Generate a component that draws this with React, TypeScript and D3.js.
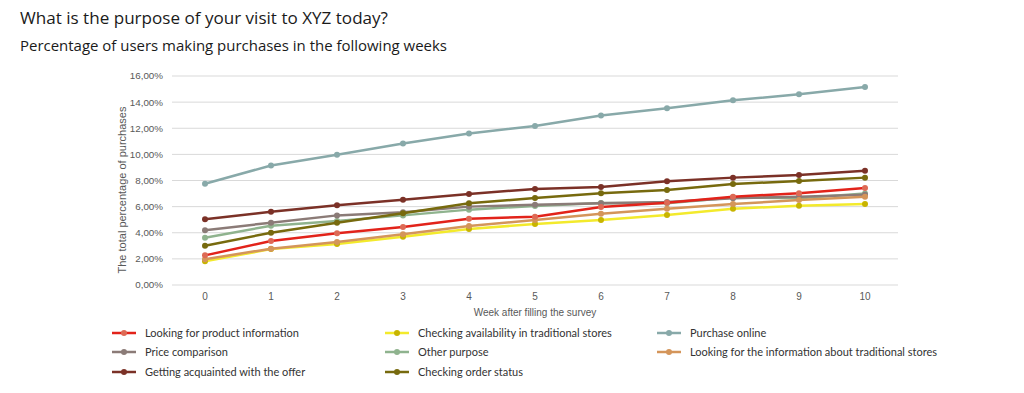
import React from "react";
import * as d3 from "d3";

const weeks = [0, 1, 2, 3, 4, 5, 6, 7, 8, 9, 10];
const yTicks = [0, 2, 4, 6, 8, 10, 12, 14, 16];

const seriesNames = [
  "Looking for product information",
  "Checking availability in traditional stores",
  "Purchase online",
  "Price comparison",
  "Other purpose",
  "Looking for the information about traditional stores",
  "Getting acquainted with the offer",
  "Checking order status",
];

const productInfo = [2.27, 3.37, 3.96, 4.44, 5.08, 5.23, 5.97, 6.3, 6.76, 7.02, 7.43];
const availability = [1.81, 2.75, 3.14, 3.7, 4.29, 4.67, 4.98, 5.36, 5.84, 6.07, 6.2];
const purchaseOnline = [7.75, 9.15, 9.97, 10.83, 11.6, 12.17, 12.97, 13.53, 14.14, 14.6, 15.16];
const priceComparison = [4.2, 4.77, 5.33, 5.57, 6.0, 6.15, 6.25, 6.35, 6.65, 6.75, 6.9];
const otherPurpose = [3.62, 4.54, 4.9, 5.33, 5.77, 6.05, 6.28, 6.25, 6.7, 6.65, 7.0];
const tradStores = [1.97, 2.78, 3.29, 3.88, 4.52, 4.98, 5.46, 5.84, 6.2, 6.5, 6.76];
const acquainted = [5.03, 5.61, 6.1, 6.53, 6.97, 7.35, 7.5, 7.94, 8.22, 8.42, 8.75];
const orderStatus = [3.01, 4.0, 4.77, 5.5, 6.25, 6.66, 7.02, 7.27, 7.73, 7.96, 8.22];

const seriesValues = [
  productInfo,
  availability,
  purchaseOnline,
  priceComparison,
  otherPurpose,
  tradStores,
  acquainted,
  orderStatus,
];

const lineColors = ["#e2231a", "#f3ea2c", "#88a9a9", "#8b7b77", "#8fb38e", "#d4955a", "#7b3127", "#776a0e"];
const markerColors = ["#dd6a55", "#c8b400", "#88a9a9", "#8b7b77", "#8fb38e", "#d4955a", "#7b3127", "#776a0e"];

// draw order (back to front)
const drawOrder = [2, 4, 3, 1, 5, 0, 7, 6];

// legend grid positions (col, row)
const legendPos = [
  [0, 0], [1, 0], [2, 0],
  [0, 1], [1, 1], [2, 1],
  [0, 2], [1, 2],
];
const legendColX = [112, 385, 657];
const legendRowY = [333, 352, 372];

export default function App() {
  const width = 1024;
  const height = 393;
  const x = d3.scaleBand<number>().domain(weeks).range([172, 898]);
  const y = d3.scaleLinear().domain([0, 16]).range([285, 76]);
  const cx = (w: number) => (x(w) as number) + x.bandwidth() / 2;
  const line = d3
    .line<number>()
    .x((_, i) => cx(weeks[i]))
    .y((v) => y(v));
  const fmt = (v: number) => v.toFixed(2).replace(".", ",") + "%";
  const axisFont = "'Liberation Sans', Arial, sans-serif";
  const titleFont = "'Open Sans', 'Noto Sans', sans-serif";

  return (
    <svg
      width={width}
      height={height}
      style={{ position: "absolute", left: 0, top: 0, background: "#fff" }}
    >
      <text x={20} y={24} fontFamily={titleFont} fontSize={16.5} fill="#1a1a1a" textLength={368} lengthAdjust="spacingAndGlyphs">
        What is the purpose of your visit to XYZ today?
      </text>
      <text x={20} y={51} fontFamily={titleFont} fontSize={14.5} fill="#1a1a1a" textLength={427} lengthAdjust="spacingAndGlyphs">
        Percentage of users making purchases in the following weeks
      </text>

      {yTicks.map((t) => (
        <g key={t}>
          <line x1={172} x2={898} y1={y(t)} y2={y(t)} stroke="#d9d9d9" strokeWidth={1} />
          <text x={163} y={y(t)} dy="0.35em" textAnchor="end" fontFamily={axisFont} fontSize={9.8} fill="#595959">
            {fmt(t)}
          </text>
        </g>
      ))}
      {weeks.map((w) => (
        <text key={w} x={cx(w)} y={300} textAnchor="middle" fontFamily={axisFont} fontSize={10} fill="#595959">
          {w}
        </text>
      ))}
      <text x={535} y={316} textAnchor="middle" fontFamily={axisFont} fontSize={10} fill="#595959">
        Week after filling the survey
      </text>
      <text
        transform={`translate(125.5,190) rotate(-90)`}
        textAnchor="middle"
        fontFamily={axisFont}
        fontSize={11}
        fill="#595959"
      >
        The total percentage of purchases
      </text>

      {drawOrder.map((si) => (
        <g key={si}>
          <path d={line(seriesValues[si]) || ""} fill="none" stroke={lineColors[si]} strokeWidth={2.5} strokeLinejoin="round" />
          {seriesValues[si].map((v, i) => (
            <circle key={i} cx={cx(weeks[i])} cy={y(v)} r={3} fill={markerColors[si]} />
          ))}
        </g>
      ))}

      {seriesNames.map((name, si) => {
        const [c, r] = legendPos[si];
        const lx = legendColX[c];
        const ly = legendRowY[r];
        return (
          <g key={name}>
            <line x1={lx} x2={lx + 24} y1={ly} y2={ly} stroke={lineColors[si]} strokeWidth={2.5} />
            <circle cx={lx + 12} cy={ly} r={3} fill={markerColors[si]} />
            <text x={lx + 33} y={ly} dy="0.35em" fontFamily="'Lato', 'Open Sans', sans-serif" fontSize={11} fill="#333">
              {name}
            </text>
          </g>
        );
      })}
    </svg>
  );
}
